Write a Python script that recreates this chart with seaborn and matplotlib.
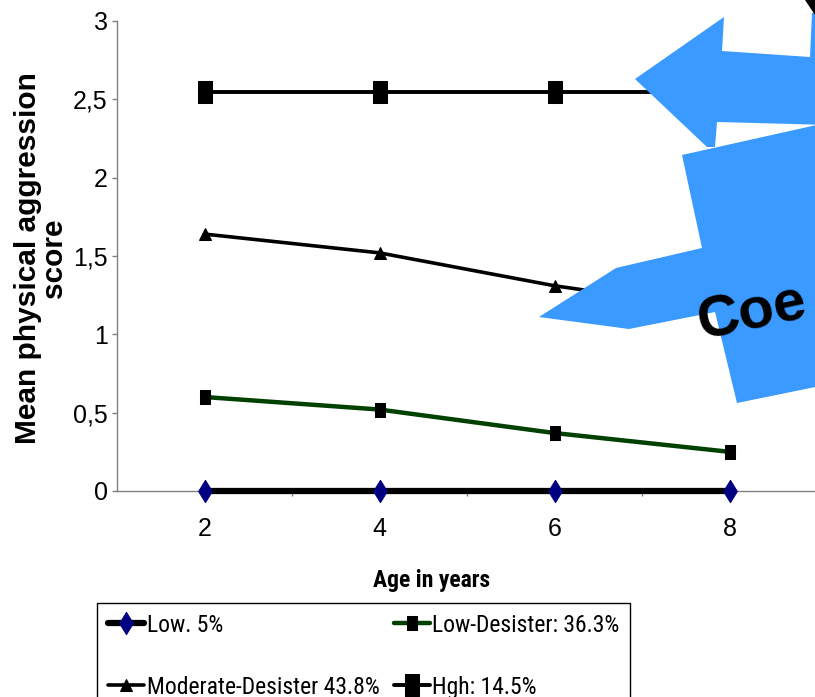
import matplotlib
matplotlib.use("Agg")
import matplotlib.pyplot as plt
from matplotlib.patches import Polygon
from matplotlib.ticker import FixedLocator, FuncFormatter
from matplotlib import font_manager
from matplotlib.font_manager import FontProperties
import seaborn as sns

# data
ages = [2, 4, 6, 8]
low = [0.0, 0.0, 0.0, 0.0]
low_desister = [0.60, 0.52, 0.37, 0.25]
moderate_desister = [1.64, 1.52, 1.31, 1.15]
high = [2.55, 2.55, 2.55, 2.55]
labels = ["Low. 5%", "Low-Desister: 36.3%", "Moderate-Desister 43.8%", "Hgh: 14.5%"]
y_ticks = [0, 0.5, 1, 1.5, 2, 2.5, 3]

sns.set_style("white")
plt.rcParams["font.family"] = ["Liberation Sans", "DejaVu Sans"]
plt.rcParams["text.color"] = "black"
plt.rcParams["axes.labelcolor"] = "black"


def condensed_font(bold, size):
    # look for any narrow/condensed sans face; the original uses a squeezed Arial
    prefs = ["liberation sans narrow", "roboto condensed", "open sans condensed",
             "dejavu sans"]
    found = []
    for f in font_manager.fontManager.ttflist:
        nm = f.name.lower()
        cond = "condensed" in str(f.stretch) or "narrow" in nm or "condensed" in nm \
            or "condensed" in f.fname.lower() or "narrow" in f.fname.lower()
        if not cond or f.style != "normal":
            continue
        w = f.weight if isinstance(f.weight, int) else (700 if "bold" in str(f.weight) else 400)
        if (w >= 600) != bold:
            continue
        rank = next((i for i, p in enumerate(prefs) if nm.startswith(p)), len(prefs))
        found.append((rank, f.fname))
    if found:
        found.sort()
        return FontProperties(fname=found[0][1], size=size)
    return FontProperties(family="Liberation Sans", weight="bold" if bold else "normal",
                          size=size - 3)


W, H = 815, 697


def px(x, y):
    return (x / W, 1 - y / H)


fig = plt.figure(figsize=(W / 100, H / 100), dpi=100)
ax = fig.add_axes([117 / W, 1 - 491 / H, (817 - 117) / W, (491 - 21) / H])

# marker shapes (taller than wide, like the original)
diamond = [(0, 1), (0.62, 0), (0, -1), (-0.62, 0), (0, 1)]
tall_sq = [(-0.62, -1), (0.62, -1), (0.62, 1), (-0.62, 1), (-0.62, -1)]
small_sq = [(-0.7, -1), (0.7, -1), (0.7, 1), (-0.7, 1), (-0.7, -1)]

sns.lineplot(x=ages, y=high, ax=ax, color="black", linewidth=2.8, marker=tall_sq,
             markersize=16, markerfacecolor="black", markeredgecolor="black",
             label=labels[3])
sns.lineplot(x=ages, y=moderate_desister, ax=ax, color="black", linewidth=2.6, marker="^",
             markersize=9, markerfacecolor="black", markeredgecolor="black",
             label=labels[2])
sns.lineplot(x=ages, y=low_desister, ax=ax, color="#004000", linewidth=3.2, marker=small_sq,
             markersize=10, markerfacecolor="black", markeredgecolor="black",
             label=labels[1])
sns.lineplot(x=ages, y=low, ax=ax, color="black", linewidth=4.5, marker=diamond,
             markersize=16, markerfacecolor="#000080", markeredgecolor="#000080",
             label=labels[0])
for ln in ax.lines:
    ln.set_clip_on(False)
    ln.set_zorder(3)

ax.set_xlim(1, 9)
ax.set_ylim(0, 3)
ax.set_xlabel("")
ax.set_ylabel("")

for s in ["top", "right"]:
    ax.spines[s].set_visible(False)
for s in ["left", "bottom"]:
    ax.spines[s].set_color("#808080")
    ax.spines[s].set_linewidth(1)

ax.set_yticks(y_ticks)
ax.yaxis.set_major_formatter(FuncFormatter(lambda v, p: ("%g" % v).replace(".", ",")))
ax.set_xticks(ages)
ax.xaxis.set_minor_locator(FixedLocator([3, 5, 7]))
ax.tick_params(axis="y", which="major", left=True, length=3.6, width=1, color="#808080",
               labelsize=18, pad=3, labelcolor="black")
ax.tick_params(axis="x", which="major", bottom=True, length=0, labelsize=18, pad=19,
               labelcolor="black")
ax.tick_params(axis="x", which="minor", bottom=True, length=3.6, width=1, color="#808080")

fig.text(41 / W, 1 - 258 / H, "Mean physical aggression\nscore", rotation=90,
         ha="center", va="center", multialignment="center", fontsize=21.5,
         fontweight="bold", linespacing=0.9)
fig.text(432 / W, 1 - 580 / H, "Age in years", ha="center", va="center",
         fontproperties=condensed_font(True, 17))

# legend, row-major like the original (matplotlib fills columns first)
h, l = ax.get_legend_handles_labels()
order = [labels[0], labels[2], labels[1], labels[3]]
hd = dict(zip(l, h))
leg = ax.legend([hd[k] for k in order], order, ncol=2, loc="upper left",
                bbox_to_anchor=px(97, 603), bbox_transform=fig.transFigure,
                borderaxespad=0, frameon=True, fancybox=False, framealpha=1,
                edgecolor="black", handlelength=1.55, handletextpad=0.1,
                columnspacing=0.6, labelspacing=1.65, borderpad=0.45,
                prop=condensed_font(False, 17))
leg.get_frame().set_linewidth(1)
for t in leg.get_texts():
    t.set_color("black")

# blue clip-art arrows lying over the right of the chart
blue = "#3A9AFF"
arrow_top = [(635, 79), (724, 17), (722, 51), (810, 57), (812, 13), (830, 10),
             (830, 125), (717, 122), (715, 147), (707, 147)]
arrow_low = [(682, 155), (830, 122), (830, 384), (737, 403), (715, 312), (629, 329),
             (539, 317), (616, 268), (702, 248)]
for pts in (arrow_top, arrow_low):
    fig.add_artist(Polygon([px(x, y) for x, y in pts], closed=True, facecolor=blue,
                           edgecolor="none", transform=fig.transFigure, zorder=5))
fig.add_artist(Polygon([px(x, y) for x, y in [(805, 0), (815, 0), (815, 15), (811, 9)]],
                       closed=True, facecolor="black", edgecolor="none",
                       transform=fig.transFigure, zorder=5))
fig.text(702 / W, 1 - 340 / H, "Coe", rotation=12, rotation_mode="anchor",
         ha="left", va="baseline", fontsize=42, fontweight="bold", zorder=6)

fig.savefig("out.png", dpi=100)
